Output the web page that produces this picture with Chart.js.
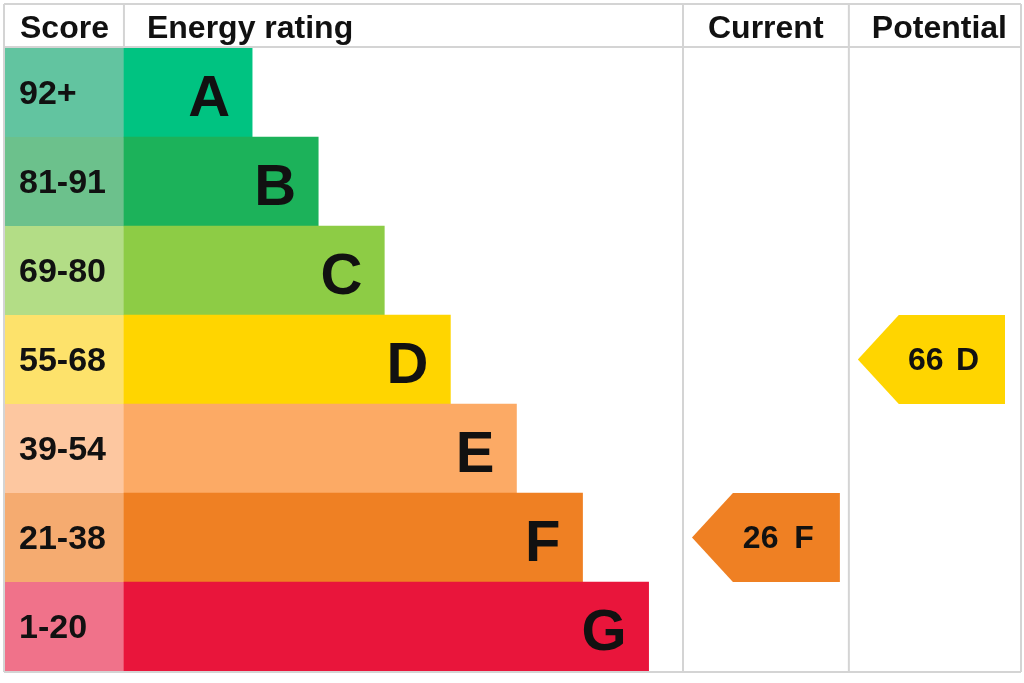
<!DOCTYPE html>
<html>
<head>
<meta charset="utf-8">
<script src="https://cdn.jsdelivr.net/npm/chart.js@4.4.1/dist/chart.umd.min.js"></script>
<style>
  html, body { margin: 0; padding: 0; background: #fff; }
  #wrap { width: 1024px; height: 683px; }
</style>
</head>
<body>
<div id="wrap"><canvas id="epc"></canvas></div>
<script>
// Bandas de la escala energética
const ratings = ['A', 'B', 'C', 'D', 'E', 'F', 'G'];
const scoreBands = ['92+', '81-91', '69-80', '55-68', '39-54', '21-38', '1-20'];
const bandMin = [92, 81, 69, 55, 39, 21, 1];
// Largo de cada barra (en pasos de banda)
const barLength = [1.94, 2.94, 3.94, 4.94, 5.94, 6.94, 7.94];

// Colores de las barras y de la columna de puntuación
const barColors = ['#00c381', '#1cb25a', '#8dcc45', '#ffd500', '#fcaa65', '#ef8023', '#e9153b'];
const scoreColors = ['#62c4a0', '#6cc18c', '#b3dd86', '#fde26b', '#fdc7a0', '#f5ab70', '#f0728a'];

// Puntuaciones actual y potencial
const currentScore = 26;
const potentialScore = 66;

const headers = ['Score', 'Energy rating', 'Current', 'Potential'];

// Columnas a la derecha (en unidades del eje x)
const currentCol = [8.46, 10.97];
const potentialCol = [10.97, 13.56];

const FONT = '"Liberation Sans", Arial, sans-serif';
const LINE = '#d4d4d4';

function bandOf(score) {
    return bandMin.findIndex(m => score >= m);
}

function drawArrow(ctx, left, right, top, bottom, color) {
    const tip = (bottom - top) * 0.46;
    ctx.beginPath();
    ctx.moveTo(left, (top + bottom) / 2);
    ctx.lineTo(left + tip, top);
    ctx.lineTo(right, top);
    ctx.lineTo(right, bottom);
    ctx.lineTo(left + tip, bottom);
    ctx.closePath();
    ctx.fillStyle = color;
    ctx.fill();
}

const epcTable = {
    id: 'epcTable',
    beforeDatasetsDraw(chart) {
        const { ctx, chartArea: a, scales: { x, y } } = chart;
        const x0 = x.getPixelForValue(0);
        const rowH = y.getPixelForValue(1) - y.getPixelForValue(0);
        ctx.save();
        ratings.forEach((r, i) => {
            const yc = y.getPixelForValue(i);
            ctx.fillStyle = scoreColors[i];
            ctx.fillRect(a.left, yc - rowH / 2, x0 - a.left, rowH);
            ctx.fillStyle = '#111';
            ctx.font = 'bold 34px ' + FONT;
            ctx.textAlign = 'left';
            ctx.textBaseline = 'alphabetic';
            ctx.fillText(scoreBands[i], a.left + 14, yc + 11);
        });
        ctx.restore();
    },
    afterDatasetsDraw(chart) {
        const { ctx, chartArea: a, scales: { x, y } } = chart;
        const rowH = y.getPixelForValue(1) - y.getPixelForValue(0);
        ctx.save();

        // letras dentro de las barras
        ctx.fillStyle = '#111';
        ctx.font = 'bold 58px ' + FONT;
        ctx.textAlign = 'right';
        ctx.textBaseline = 'alphabetic';
        ratings.forEach((r, i) => {
            ctx.fillText(r, x.getPixelForValue(barLength[i]) - 22, y.getPixelForValue(i) + 23);
        });

        // líneas de la tabla
        const cx1 = x.getPixelForValue(currentCol[0]);
        const cx2 = x.getPixelForValue(currentCol[1]);
        const x0 = x.getPixelForValue(0);
        const top = 4, head = a.top - 1, bottom = a.bottom + 1;
        const left = a.left - 1, right = a.right + 1;
        ctx.strokeStyle = LINE;
        ctx.lineWidth = 2;
        ctx.beginPath();
        ctx.moveTo(left, top); ctx.lineTo(right, top);
        ctx.moveTo(left, head); ctx.lineTo(right, head);
        ctx.moveTo(left, bottom); ctx.lineTo(right, bottom);
        ctx.moveTo(left, top); ctx.lineTo(left, bottom);
        ctx.moveTo(right, top); ctx.lineTo(right, bottom);
        ctx.moveTo(x0, top); ctx.lineTo(x0, head);
        ctx.moveTo(cx1, top); ctx.lineTo(cx1, bottom);
        ctx.moveTo(cx2, top); ctx.lineTo(cx2, bottom);
        ctx.stroke();

        // encabezados
        ctx.fillStyle = '#111';
        ctx.font = 'bold 32px ' + FONT;
        ctx.textAlign = 'left';
        const hx = [a.left + 15, x0 + 23, cx1 + 25, cx2 + 23];
        headers.forEach((h, i) => ctx.fillText(h, hx[i], 38));

        // flechas actual / potencial
        const marks = [[currentScore, currentCol, 9], [potentialScore, potentialCol, 15]];
        marks.forEach(([score, col, inset]) => {
            const b = bandOf(score);
            const yc = y.getPixelForValue(b);
            const l = x.getPixelForValue(col[0]) + 9;
            const r = x.getPixelForValue(col[1]) - inset;
            drawArrow(ctx, l, r, yc - rowH / 2, yc + rowH / 2, barColors[b]);
            ctx.fillStyle = '#111';
            ctx.font = 'bold 32px ' + FONT;
            ctx.textAlign = 'left';
            ctx.fillText(String(score), r - 97, yc + 10);
            ctx.textAlign = 'right';
            ctx.fillText(ratings[b], r - 26, yc + 10);
        });
        ctx.restore();
    }
};

new Chart(document.getElementById('epc'), {
    type: 'bar',
    data: {
        labels: ratings,
        datasets: [{
            data: barLength,
            backgroundColor: barColors,
            borderWidth: 0,
            barPercentage: 1,
            categoryPercentage: 1
        }]
    },
    options: {
        indexAxis: 'y',
        responsive: true,
        maintainAspectRatio: false,
        animation: false,
        layout: { padding: { top: 48, left: 5, right: 4, bottom: 12 } },
        plugins: {
            legend: { display: false },
            tooltip: { enabled: false }
        },
        scales: {
            x: { display: false, min: -1.8, max: 13.56 },
            y: { display: false }
        }
    },
    plugins: [epcTable]
});
</script>
</body>
</html>
